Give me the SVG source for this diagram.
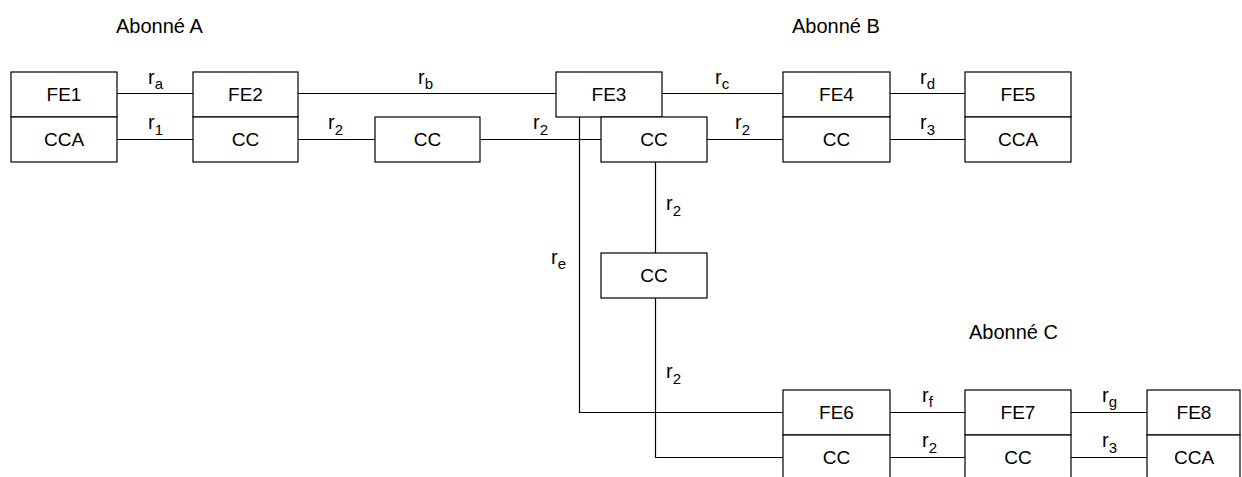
<svg xmlns="http://www.w3.org/2000/svg" width="1242" height="477" viewBox="0 0 1242 477">
<style>
.box{fill:#fff;stroke:#000;stroke-width:1.2}
.ln{fill:none;stroke:#000;stroke-width:1.2}
text{font-family:"Liberation Sans",Arial,sans-serif;fill:#000}
.t{font-size:19px;text-anchor:middle}
.h{font-size:20px}
.r{font-size:20px}
.s{font-size:15px}
</style>
<rect width="1242" height="477" fill="#fff"/>
<g id="titles">
<text class="h" x="116" y="33">Abonné A</text>
<text class="h" x="792" y="33">Abonné B</text>
<text class="h" x="969" y="339">Abonné C</text>
</g>
<g id="connectors">
<path class="ln" d="M117 93.5H193M117 139.5H193M298 93.5H556M298 139.5H375M480 139.5H601M662 93.5H783M707 139.5H783M890 93.5H965M890 139.5H965"/>
<path class="ln" d="M579.5 117V412.5H783"/>
<path class="ln" d="M655.5 162V253M655.5 298V457.5H783"/>
<path class="ln" d="M890 412.5H965M890 457.5H965M1071 412.5H1147M1071 457.5H1147"/>
</g>
<g id="labels">
<text class="r" x="148" y="84">r<tspan class="s" dy="5">a</tspan></text>
<text class="r" x="148" y="129">r<tspan class="s" dy="6">1</tspan></text>
<text class="r" x="418" y="84">r<tspan class="s" dy="5">b</tspan></text>
<text class="r" x="328" y="129">r<tspan class="s" dy="6">2</tspan></text>
<text class="r" x="533" y="129">r<tspan class="s" dy="6">2</tspan></text>
<text class="r" x="715" y="84">r<tspan class="s" dy="5">c</tspan></text>
<text class="r" x="735" y="129">r<tspan class="s" dy="6">2</tspan></text>
<text class="r" x="920" y="84">r<tspan class="s" dy="5">d</tspan></text>
<text class="r" x="920" y="129">r<tspan class="s" dy="6">3</tspan></text>
<text class="r" x="666" y="210">r<tspan class="s" dy="6">2</tspan></text>
<text class="r" x="551" y="264">r<tspan class="s" dy="5">e</tspan></text>
<text class="r" x="666" y="378">r<tspan class="s" dy="6">2</tspan></text>
<text class="r" x="922" y="402">r<tspan class="s" dy="5">f</tspan></text>
<text class="r" x="922" y="447">r<tspan class="s" dy="6">2</tspan></text>
<text class="r" x="1102" y="402">r<tspan class="s" dy="5">g</tspan></text>
<text class="r" x="1102" y="447">r<tspan class="s" dy="6">3</tspan></text>
</g>
<g id="n1"><rect class="box" x="11" y="72" width="106" height="45"/><text class="t" x="64" y="101">FE1</text><rect class="box" x="11" y="117" width="106" height="45"/><text class="t" x="64" y="146">CCA</text></g>
<g id="n2"><rect class="box" x="193" y="72" width="105" height="45"/><text class="t" x="245.5" y="101">FE2</text><rect class="box" x="193" y="117" width="105" height="45"/><text class="t" x="245.5" y="146">CC</text></g>
<g id="n3"><rect class="box" x="375" y="117" width="105" height="45"/><text class="t" x="427.5" y="146">CC</text></g>
<g id="n4"><rect class="box" x="556" y="72" width="106" height="45"/><text class="t" x="609" y="101">FE3</text></g>
<g id="n5"><rect class="box" x="601" y="117" width="106" height="45"/><text class="t" x="654" y="146">CC</text></g>
<g id="n6"><rect class="box" x="783" y="72" width="107" height="45"/><text class="t" x="836.5" y="101">FE4</text><rect class="box" x="783" y="117" width="107" height="45"/><text class="t" x="836.5" y="146">CC</text></g>
<g id="n7"><rect class="box" x="965" y="72" width="106" height="45"/><text class="t" x="1018" y="101">FE5</text><rect class="box" x="965" y="117" width="106" height="45"/><text class="t" x="1018" y="146">CCA</text></g>
<g id="n8"><rect class="box" x="601" y="253" width="106" height="45"/><text class="t" x="654" y="282">CC</text></g>
<g id="n9"><rect class="box" x="783" y="390" width="107" height="45"/><text class="t" x="836.5" y="419">FE6</text><rect class="box" x="783" y="435" width="107" height="50"/><text class="t" x="836.5" y="464">CC</text></g>
<g id="n10"><rect class="box" x="965" y="390" width="106" height="45"/><text class="t" x="1018" y="419">FE7</text><rect class="box" x="965" y="435" width="106" height="50"/><text class="t" x="1018" y="464">CC</text></g>
<g id="n11"><rect class="box" x="1147" y="390" width="93" height="45"/><text class="t" x="1194" y="419">FE8</text><rect class="box" x="1147" y="435" width="93" height="50"/><text class="t" x="1194" y="464">CCA</text></g>
</svg>
